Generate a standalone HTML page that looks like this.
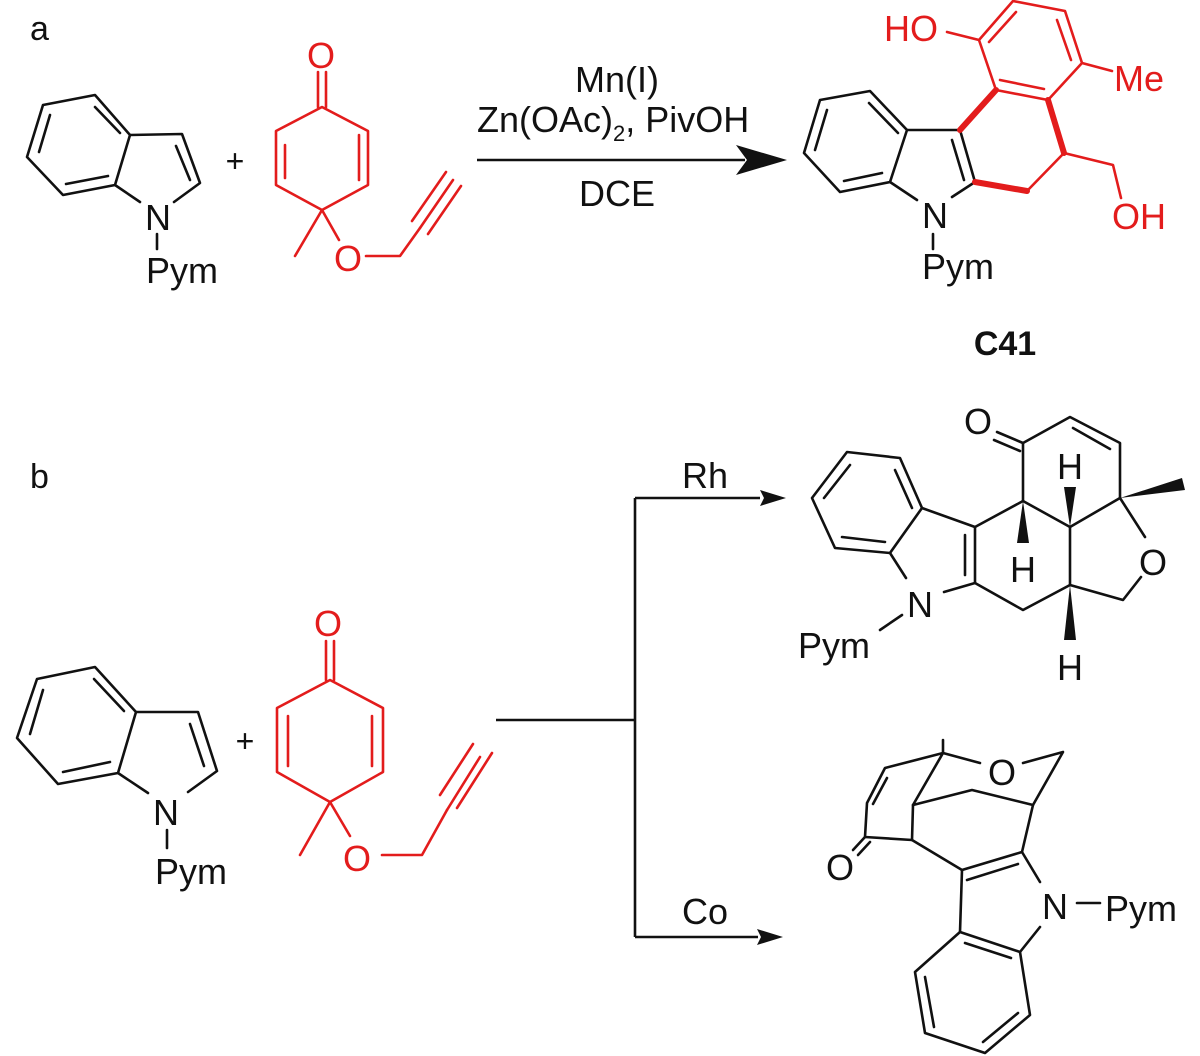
<!DOCTYPE html>
<html><head><meta charset="utf-8"><style>
html,body{margin:0;padding:0;background:#fff;}
svg{display:block;}
text{font-family:"Liberation Sans",sans-serif;}
</style></head><body>
<svg width="1200" height="1056" viewBox="0 0 1200 1056" xmlns="http://www.w3.org/2000/svg">
<g stroke="#111" stroke-width="2.6" fill="none" stroke-linecap="round" stroke-linejoin="round">
<polygon points="43,105 95,95 130,135 115,185 63,195 27,157"/>
<line x1="95" y1="107" x2="120" y2="133"/>
<line x1="50" y1="115" x2="39" y2="152"/>
<line x1="66" y1="184" x2="108" y2="176"/>
<polyline points="130,135 182,134 200,183 174,202"/>
<line x1="176" y1="146" x2="190" y2="180"/>
<line x1="115" y1="185" x2="140" y2="202"/>
<line x1="157" y1="234" x2="157" y2="249"/>
</g>
<g stroke="#e31c1c" stroke-width="2.6" fill="none" stroke-linecap="round" stroke-linejoin="round">
<line x1="318" y1="72" x2="318" y2="107"/><line x1="326" y1="72" x2="326" y2="107"/>
<polygon points="322,107 368,131 368,185 322,210 276,185 276,131"/>
<line x1="285" y1="145" x2="285" y2="178"/><line x1="359" y1="135" x2="359" y2="180"/>
<line x1="322" y1="210" x2="295" y2="256"/>
<line x1="322" y1="210" x2="339" y2="240"/>
<polyline points="366,256 400,256 420,228"/>
<line x1="420" y1="228" x2="453" y2="180"/>
<line x1="412" y1="221" x2="446" y2="172"/>
<line x1="428" y1="234" x2="461" y2="186"/>
</g>
<text x="321" y="68" font-size="36" fill="#e31c1c" text-anchor="middle">O</text>
<text x="348" y="271" font-size="36" fill="#e31c1c" text-anchor="middle">O</text>
<text x="158" y="230" font-size="36" fill="#111" text-anchor="middle">N</text>
<text x="146" y="283" font-size="36" fill="#111">Pym</text>
<text x="235" y="172" font-size="32" fill="#111" text-anchor="middle">+</text>
<text x="30" y="40" font-size="34" fill="#111">a</text>

<line x1="477" y1="160" x2="745" y2="160" stroke="#111" stroke-width="2.6"/>
<polygon points="787,160 736,145 747,160 736,175" fill="#111"/>
<text x="617" y="92" font-size="36" fill="#111" text-anchor="middle">Mn(I)</text>
<text x="477" y="132" font-size="36" fill="#111">Zn(OAc)<tspan font-size="22" dy="9">2</tspan><tspan dy="-9">,  PivOH</tspan></text>
<text x="617" y="206" font-size="36" fill="#111" text-anchor="middle">DCE</text>

<g stroke="#111" stroke-width="2.6" fill="none" stroke-linecap="round" stroke-linejoin="round">
<polygon points="820,100 870,91 907,130 890,182 840,192 804,153"/>
<line x1="869" y1="103" x2="898" y2="133"/>
<line x1="827" y1="110" x2="815" y2="150"/>
<line x1="844" y1="181" x2="882" y2="173"/>
<line x1="907" y1="130" x2="960" y2="130"/>
<line x1="960" y1="130" x2="975" y2="182"/>
<line x1="952" y1="140" x2="964" y2="180"/>
<line x1="890" y1="182" x2="917" y2="200"/>
<line x1="975" y1="182" x2="952" y2="197"/>
<line x1="933" y1="234" x2="933" y2="249"/>
</g>
<g stroke="#e31c1c" stroke-width="2.6" fill="none" stroke-linecap="round" stroke-linejoin="round">
<line x1="975" y1="182" x2="1027" y2="191" stroke-width="6"/>
<line x1="1027" y1="191" x2="1064" y2="153"/>
<line x1="1064" y1="153" x2="1048" y2="100" stroke-width="6"/>
<line x1="960" y1="130" x2="996" y2="90" stroke-width="6"/>
<polygon points="996,90 1048,100 1082,63 1065,11 1013,1 979,40"/>
<line x1="1000" y1="80" x2="1044" y2="89"/>
<line x1="1057" y1="20" x2="1071" y2="60"/>
<line x1="989" y1="42" x2="1016" y2="12"/>
<line x1="979" y1="40" x2="947" y2="32"/>
<line x1="1082" y1="63" x2="1112" y2="71"/>
<polyline points="1064,153 1113,165 1121,198"/>
</g>
<text x="884" y="41" font-size="36" fill="#e31c1c">HO</text>
<text x="1114" y="91" font-size="36" fill="#e31c1c">Me</text>
<text x="1112" y="229" font-size="36" fill="#e31c1c">OH</text>
<text x="935" y="228" font-size="36" fill="#111" text-anchor="middle">N</text>
<text x="922" y="279" font-size="36" fill="#111">Pym</text>
<text x="1005" y="355" font-size="34" font-weight="bold" fill="#111" text-anchor="middle">C41</text>

<text x="30" y="488" font-size="34" fill="#111">b</text>
<g stroke="#111" stroke-width="2.6" fill="none" stroke-linecap="round" stroke-linejoin="round">
<polygon points="37,679 95,667 136,712 118,773 58,784 17,738"/>
<line x1="94" y1="679" x2="124" y2="711"/>
<line x1="43" y1="690" x2="30" y2="734"/>
<line x1="63" y1="772" x2="110" y2="762"/>
<polyline points="136,712 198,712 217,771 188,792"/>
<line x1="190" y1="724" x2="204" y2="766"/>
<line x1="118" y1="773" x2="148" y2="793"/>
<line x1="167" y1="830" x2="167" y2="848"/>
</g>
<g stroke="#e31c1c" stroke-width="2.6" fill="none" stroke-linecap="round" stroke-linejoin="round">
<line x1="326" y1="641" x2="326" y2="680"/><line x1="334" y1="641" x2="334" y2="680"/>
<polygon points="330,680 383,708 383,772 330,802 277,772 277,708"/>
<line x1="288" y1="716" x2="288" y2="766"/><line x1="372" y1="716" x2="372" y2="766"/>
<line x1="330" y1="802" x2="300" y2="855"/>
<line x1="330" y1="802" x2="350" y2="836"/>
<polyline points="382,855 422,855 447,810"/>
<line x1="447" y1="810" x2="480" y2="757"/>
<line x1="440" y1="795" x2="473" y2="744"/>
<line x1="457" y1="808" x2="492" y2="753"/>
</g>
<text x="328" y="636" font-size="36" fill="#e31c1c" text-anchor="middle">O</text>
<text x="357" y="871" font-size="36" fill="#e31c1c" text-anchor="middle">O</text>
<text x="166" y="825" font-size="36" fill="#111" text-anchor="middle">N</text>
<text x="155" y="884" font-size="36" fill="#111">Pym</text>
<text x="245" y="752" font-size="32" fill="#111" text-anchor="middle">+</text>

<g stroke="#111" stroke-width="2.6" fill="none">
<line x1="496" y1="720" x2="635" y2="720"/>
<line x1="635" y1="498" x2="635" y2="937"/>
<line x1="635" y1="498" x2="760" y2="498"/>
<line x1="635" y1="937" x2="758" y2="937"/>
</g>
<polygon points="786,498 760,490 764,498 760,506" fill="#111"/>
<polygon points="783,937 757,929 761,937 757,945" fill="#111"/>
<text x="705" y="488" font-size="36" fill="#111" text-anchor="middle">Rh</text>
<text x="705" y="924" font-size="36" fill="#111" text-anchor="middle">Co</text>

<g stroke="#111" stroke-width="2.6" fill="none" stroke-linecap="round" stroke-linejoin="round">
<polygon points="847,452 900,458 922,508 890,553 835,548 812,498"/>
<line x1="895" y1="470" x2="912" y2="508"/>
<line x1="850" y1="465" x2="824" y2="498"/>
<line x1="842" y1="537" x2="885" y2="542"/>
<line x1="922" y1="508" x2="975" y2="527"/>
<line x1="975" y1="527" x2="975" y2="583"/>
<line x1="965" y1="535" x2="965" y2="575"/>
<line x1="890" y1="553" x2="906" y2="578"/>
<line x1="975" y1="583" x2="944" y2="592"/>
<line x1="880" y1="630" x2="902" y2="615"/>
<line x1="975" y1="527" x2="1023" y2="501"/>
<line x1="1023" y1="501" x2="1023" y2="443"/>
<line x1="1023" y1="443" x2="997" y2="432"/>
<line x1="1020" y1="451" x2="994" y2="440"/>
<polyline points="1023,443 1070,417 1120,443 1120,498"/>
<line x1="1073" y1="428" x2="1110" y2="449"/>
<line x1="1023" y1="501" x2="1070" y2="527"/>
<line x1="1070" y1="527" x2="1120" y2="498"/>
<line x1="1120" y1="498" x2="1145" y2="537"/>
<polyline points="1141,577 1123,600 1070,585"/>
<line x1="1070" y1="527" x2="1070" y2="585"/>
<polyline points="1070,585 1023,610 975,583"/>
</g>
<g fill="#111">
<polygon points="1120,498 1182,478 1185,490"/>
<polygon points="1023,501 1017,543 1029,543"/>
<polygon points="1070,527 1064,487 1076,487"/>
<polygon points="1070,585 1064,640 1076,640"/>
</g>
<text x="978" y="434" font-size="36" fill="#111" text-anchor="middle">O</text>
<text x="1153" y="575" font-size="36" fill="#111" text-anchor="middle">O</text>
<text x="1023" y="582" font-size="36" fill="#111" text-anchor="middle">H</text>
<text x="1070" y="479" font-size="36" fill="#111" text-anchor="middle">H</text>
<text x="1070" y="680" font-size="36" fill="#111" text-anchor="middle">H</text>
<text x="920" y="617" font-size="36" fill="#111" text-anchor="middle">N</text>
<text x="798" y="658" font-size="36" fill="#111">Pym</text>

<g stroke="#111" stroke-width="2.6" fill="none" stroke-linecap="round" stroke-linejoin="round">
<line x1="943" y1="740" x2="943" y2="753"/>
<line x1="943" y1="753" x2="980" y2="763"/>
<polyline points="1023,763 1063,752 1033,805"/>
<polyline points="943,753 885,768 867,803 865,837 912,840 913,805 943,753"/>
<line x1="887" y1="778" x2="873" y2="804"/>
<line x1="865" y1="837" x2="853" y2="850"/>
<line x1="870" y1="842" x2="858" y2="855"/>
<polyline points="913,805 972,790 1033,805 1022,852"/>
<line x1="912" y1="840" x2="962" y2="870"/>
<line x1="962" y1="870" x2="1022" y2="852"/>
<line x1="967" y1="880" x2="1018" y2="864"/>
<line x1="1022" y1="852" x2="1040" y2="882"/>
<line x1="1077" y1="903" x2="1100" y2="903"/>
<line x1="1040" y1="927" x2="1020" y2="952"/>
<line x1="962" y1="870" x2="960" y2="932"/>
<polygon points="960,932 1020,952 1030,1015 985,1053 925,1033 915,972"/>
<line x1="965" y1="943" x2="1011" y2="958"/>
<line x1="1018" y1="1013" x2="983" y2="1042"/>
<line x1="925" y1="977" x2="934" y2="1027"/>
</g>
<text x="1002" y="785" font-size="36" fill="#111" text-anchor="middle">O</text>
<text x="840" y="880" font-size="36" fill="#111" text-anchor="middle">O</text>
<text x="1055" y="919" font-size="36" fill="#111" text-anchor="middle">N</text>
<text x="1105" y="921" font-size="36" fill="#111">Pym</text>
</svg>
</body></html>
